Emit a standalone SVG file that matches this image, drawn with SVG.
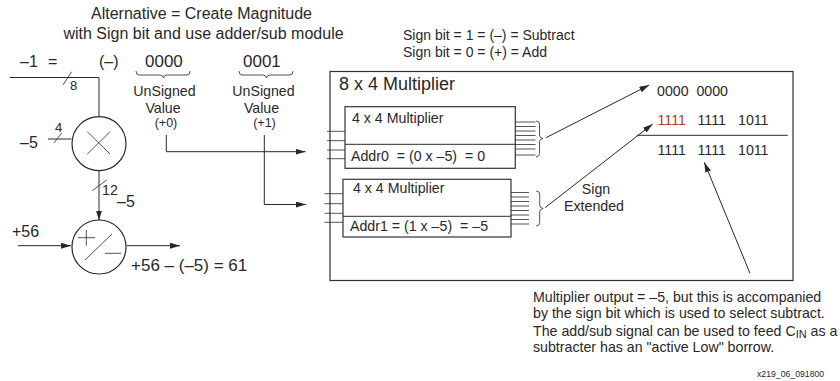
<svg xmlns="http://www.w3.org/2000/svg" width="840" height="381" viewBox="0 0 840 381">
<style>
text{font-family:"Liberation Sans",Arial,sans-serif;fill:#2a2728;white-space:pre}
.s12{font-size:12.500px}.s13{font-size:13px}.s14{font-size:14.200px}.s16{font-size:16px}.s17{font-size:17px}.s18{font-size:18px}
.m{text-anchor:middle}
.l{fill:none;stroke:#2a2728;stroke-width:1}
.t{fill:none;stroke:#2a2728;stroke-width:0.8}
.b{fill:#fff;stroke:#333;stroke-width:1.2}
.a{marker-end:url(#ah)}
</style>
<defs>
<marker id="ah" markerUnits="userSpaceOnUse" markerWidth="10" markerHeight="6" refX="10" refY="3" orient="auto"><path d="M0 0L10 3L0 6Z" fill="#2a2728"/></marker>
</defs>
<rect width="840" height="381" fill="#fff"/>
<g id="titles">
<text class="s16 m" x="201.500" y="19">Alternative = Create Magnitude</text>
<text class="s16 m" x="203.500" y="38.500">with Sign bit and use adder/sub module</text>
<text class="s14" x="403" y="40" style="font-size:14px">Sign bit = 1 = (–) = Subtract</text>
<text class="s14" x="403" y="56.500" style="font-size:14px">Sign bit = 0 = (+) = Add</text>
</g>
<g id="sign-bits">
<text class="s16" x="20" y="67">–1</text>
<text class="s16" x="48" y="67">=</text>
<text class="s16" x="99" y="67">(–)</text>
<text class="s17" x="145" y="67">0000</text>
<text class="s17" x="243" y="67">0001</text>
<path class="t" d="M136 71q0 4 3 4h21q3 0 3.500 3q.5-3 3.500-3h20q3 0 3-4"/>
<path class="t" d="M239 71q0 4 3 4h21q3 0 3.500 3q.5-3 3.500-3h20q3 0 3-4"/>
<text class="s14 m" x="164.500" y="96">UnSigned</text>
<text class="s14 m" x="163" y="113">Value</text>
<text class="s12 m" x="166" y="127">(+0)</text>
<text class="s14 m" x="263.500" y="96">UnSigned</text>
<text class="s14 m" x="261.500" y="113">Value</text>
<text class="s12 m" x="264.500" y="127">(+1)</text>
</g>
<g id="connectors">
<path class="l" d="M10 77.500H99V117.300"/>
<path class="t" d="M63 85L71.700 71.700"/>
<path class="l" d="M48 139H71.500"/>
<path class="t" d="M54 143L61.700 133"/>
<path class="l a" d="M99 170.500V220.500"/>
<path class="t" d="M92.300 190.700L106.700 180"/>
<path class="l a" d="M18 245.700H71"/>
<path class="l a" d="M127 245.700H180"/>
<path class="l a" d="M166.300 135V151.700H305.500"/>
<path class="l a" d="M264.300 135V204.500H306"/>
<path class="l a" d="M546 137.700L649.300 85"/>
<path class="l a" d="M545 207.700L652.700 124"/>
<path class="l a" d="M750 273.300L704.300 162.300"/>
<path class="l" d="M636.700 135.300H787.700"/>
</g>
<g id="labels">
<text class="s13" x="70" y="89.500">8</text>
<text class="s13" x="55" y="132">4</text>
<text class="s16" x="20" y="148">–5</text>
<text class="s14" x="102" y="195">12</text>
<text class="s16" x="117" y="207">–5</text>
<text class="s16" x="12" y="237">+56</text>
<text class="s17" x="131" y="271">+56 – (–5) = 61</text>
</g>
<g id="multiplier">
<circle class="l" style="stroke-width:1.200;fill:#fff" cx="99" cy="143.700" r="27"/>
<path class="t" d="M87.300 131.700L110 154M110 131.700L87.300 154"/>
</g>
<g id="adder">
<circle class="l" style="stroke-width:1.200;fill:#fff" cx="99" cy="247" r="27"/>
<path class="t" d="M77.700 237.700H95M86.300 230V245.700M85 260L112 234M105 253.300H121"/>
</g>
<g id="mult-8x4">
<rect x="330" y="71.500" width="463" height="209" fill="none" stroke="#333" stroke-width="1.200"/>
<text class="s18" x="339" y="89.500">8 x 4 Multiplier</text>
</g>
<g id="mult-4x4-0">
<path class="t" d="M327 131.300H345M327 140.700H345M327 150H345M327 158.700H345"/>
<rect class="b" x="345" y="106.700" width="170.300" height="61.600"/>
<path class="l" d="M345 144.300H515.300"/>
<text class="s14" x="352" y="122.700">4 x 4 Multiplier</text>
<text class="s14" x="351" y="161">Addr0  = (0 x –5)  = 0</text>
<path class="t" d="M515.300 122H535.500M515.300 126.500H535.500M515.300 131H535.500M515.300 135.500H535.500M515.300 140H535.500M515.300 144.500H535.500M515.300 149H535.500M515.300 155H535.500"/>
<path class="t" d="M536 121q3.500 0 3.500 3v11q0 3 3.500 3.500q-3.500 .5-3.500 3v12q0 3-3.500 3.500"/>
</g>
<g id="mult-4x4-1">
<path class="t" d="M324.500 193.700H343M324.500 203.700H343M324.500 213.300H343M324.500 222.300H343"/>
<rect class="b" x="343" y="179.300" width="168" height="57.700"/>
<path class="l" d="M343 216.300H511"/>
<text class="s14" x="353" y="193">4 x 4 Multiplier</text>
<text class="s14" x="350" y="231">Addr1 = (1 x –5)  = –5</text>
<path class="t" d="M511 192.500H529M511 197H529M511 201.500H529M511 206H529M511 210.500H529M511 215H529M511 219.500H529M511 224H529"/>
<path class="t" d="M536.200 191q3.500 0 3.500 3v11q0 3 3.500 3.500q-3.500 .5-3.500 3v11q0 3-3.500 3.500"/>
</g>
<g id="sum">
<text class="s14" x="657" y="96">0000  0000</text>
<text class="s14" x="657.500" y="125" style="fill:#b5382d">1111</text>
<text class="s14" x="697.500" y="125">1111</text>
<text class="s14" x="738" y="125">1011</text>
<text class="s14" x="657.500" y="154.500">1111</text>
<text class="s14" x="697.500" y="154.500">1111</text>
<text class="s14" x="738" y="154.500">1011</text>
<text class="s14 m" x="596" y="194">Sign</text>
<text class="s14 m" x="594" y="210.700">Extended</text>
</g>
<g id="note">
<text class="s14" x="533" y="301.700">Multiplier output = –5, but this is accompanied</text>
<text class="s14" x="533" y="318">by the sign bit which is used to select subtract.</text>
<text class="s14" x="533" y="335.700">The add/sub signal can be used to feed C<tspan font-size="11" dy="2">IN</tspan><tspan dy="-2"> as a</tspan></text>
<text class="s14" x="533" y="351.700">subtracter has an "active Low" borrow.</text>
<text x="757" y="376.700" font-size="8.700">x219_06_091800</text>
</g>
</svg>
